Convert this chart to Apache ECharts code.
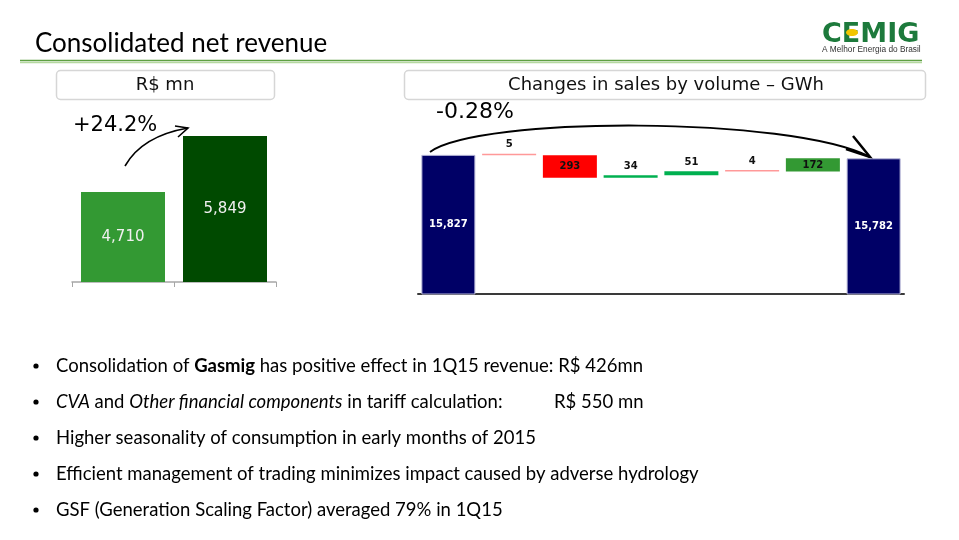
<!DOCTYPE html>
<html><head><meta charset="utf-8">
<script src="https://cdn.jsdelivr.net/npm/echarts@6/dist/echarts.min.js"></script>
<style>html,body{margin:0;padding:0;background:#fff}#c{width:959px;height:540px}</style>
</head><body><div id="c"></div>
<script>
// ---- data ----
const revCategories = ['1Q14', '1Q15'];
const revValues = [4710, 5849];
const revGrowthLabel = '+24.2%';

const wfCategories = ['1Q14', 'Var 1', 'Var 2', 'Var 3', 'Var 4', 'Var 5', 'Var 6', '1Q15'];
const wfStart = 15827;
const wfChanges = [-5, -293, 34, 51, -4, 172];
const wfEnd = 15782;
const wfChangeLabel = '-0.28%';

const bulletLines = [
  'Consolidation of {b|Gasmig} has positive effect in 1Q15 revenue: R$ 426mn',
  '{i|CVA} and {i|Other financial components} in tariff calculation:',
  'Higher seasonality of consumption in early months of 2015',
  'Efficient management of trading minimizes impact caused by adverse hydrology',
  'GSF (Generation Scaling Factor) averaged 79% in 1Q15'
];
const bullet2Tail = 'R$ 550 mn';

// ---- styles ----
const revColors = ['#339933', '#004a00'];
const wfTotalColor = '#000066';
const wfChangeColors = ['#ff9999', '#ff0000', '#00b050', '#00b050', '#ff9999', '#339933'];
const FONT_V = 'DejaVu Sans';
const FONT_C = 'Lato';
const BFS = 18.5;

// ---- build waterfall series ----
const wfBase = [], wfBar = [];
wfBase.push(0);
wfBar.push({value: wfStart, itemStyle: {color: wfTotalColor, borderColor: '#b8b8d8', borderWidth: 1},
  label: {show: true, position: 'inside', color: '#fff', fontSize: 10, fontWeight: 'bold'}});
let running = wfStart;
wfChanges.forEach((d, i) => {
  const next = running + d;
  wfBase.push(Math.min(running, next));
  const big = Math.abs(d) > 100;
  wfBar.push({value: Math.abs(d), itemStyle: {color: wfChangeColors[i]},
    label: {show: true, position: big ? 'inside' : 'top', distance: 4, color: '#111', fontSize: 10, fontWeight: 'bold',
      formatter: String(Math.abs(d))}});
  running = next;
});
wfBase.push(0);
wfBar.push({value: wfEnd, itemStyle: {color: wfTotalColor, borderColor: '#b8b8d8', borderWidth: 1},
  label: {show: true, position: 'inside', color: '#fff', fontSize: 10, fontWeight: 'bold'}});

const chart = echarts.init(document.getElementById('c'));
const fmt = v => v.toLocaleString('en-US');

const graphic = [
  {type: 'text', left: 35, top: 31, style: {text: 'Consolidated net revenue', font: '26px ' + FONT_C, fill: '#000'}},
  {type: 'line', shape: {x1: 20, y1: 60.5, x2: 922, y2: 60.5}, style: {stroke: '#5fa043', lineWidth: 1.5}},
  {type: 'line', shape: {x1: 20, y1: 62.5, x2: 922, y2: 62.5}, style: {stroke: '#b5d8a0', lineWidth: 1.5}},
  // logo
  {type: 'text', left: 822, top: 21, style: {text: 'CEMIG', font: 'bold 27px "DejaVu Sans"', fill: '#1d7a3c'}},
  {type: 'ellipse', shape: {cx: 852, cy: 32.5, rx: 6, ry: 3.5}, style: {fill: '#f2c500'}},
  {type: 'text', left: 822, top: 46, style: {text: 'A Melhor Energia do Brasil', font: '8.3px "Liberation Sans"', fill: '#333'}},
  // boxes
  {type: 'rect', shape: {x: 56.5, y: 70.5, width: 218, height: 29, r: 4}, style: {fill: '#fff', stroke: '#d6d6d6', lineWidth: 1.5}},
  {type: 'text', x: 165, y: 85.5, style: {text: 'R$ mn', font: '18px "' + FONT_V + '"', fill: '#111', align: 'center', verticalAlign: 'middle'}},
  {type: 'rect', shape: {x: 404.5, y: 70.5, width: 521, height: 29, r: 4}, style: {fill: '#fff', stroke: '#d6d6d6', lineWidth: 1.5}},
  {type: 'text', x: 666, y: 85.5, style: {text: 'Changes in sales by volume \u2013 GWh', font: '18px "' + FONT_V + '"', fill: '#111', align: 'center', verticalAlign: 'middle'}},
  // annotations
  {type: 'text', x: 73, y: 126, style: {text: revGrowthLabel, font: '21px "' + FONT_V + '"', fill: '#000', verticalAlign: 'middle'}},
  {type: 'bezierCurve', shape: {x1: 125, y1: 166, cpx1: 142, cpy1: 136, x2: 188, y2: 128}, style: {stroke: '#000', lineWidth: 1.6, fill: null}},
  {type: 'polyline', shape: {points: [[175, 126], [188, 128], [178, 137]]}, style: {stroke: '#000', lineWidth: 1.6, fill: null}},
  {type: 'text', x: 436, y: 112, style: {text: wfChangeLabel, font: '22px "' + FONT_V + '"', fill: '#000', verticalAlign: 'middle'}},
  {type: 'bezierCurve', shape: {x1: 430, y1: 152, cpx1: 480, cpy1: 116, cpx2: 790, cpy2: 116, x2: 870, y2: 157}, style: {stroke: '#000', lineWidth: 2, fill: null}},
  {type: 'polyline', shape: {points: [[846, 149], [870, 157], [853, 136]]}, style: {stroke: '#000', lineWidth: 2.5, fill: null}}
];
const by = [366, 402, 438, 474, 510];
bulletLines.forEach((t, i) => {
  graphic.push({type: 'circle', shape: {cx: 36, cy: by[i], r: 2.6}, style: {fill: '#000'}});
  graphic.push({type: 'text', x: 56, y: by[i], style: {text: t, font: BFS + 'px "' + FONT_C + '"', fill: '#000', verticalAlign: 'middle',
    rich: {b: {fontWeight: 'bold', fontSize: BFS, fontFamily: FONT_C}, i: {fontStyle: 'italic', fontSize: BFS, fontFamily: FONT_C}}}});
});
graphic.push({type: 'text', x: 554, y: by[1], style: {text: bullet2Tail, font: BFS + 'px "' + FONT_C + '"', fill: '#000', verticalAlign: 'middle'}});

chart.setOption({
  animation: false,
  backgroundColor: '#fff',
  grid: [
    {left: 72, top: 120, width: 204, height: 162},
    {left: 418, top: 140, width: 486, height: 154}
  ],
  xAxis: [
    {gridIndex: 0, type: 'category', data: revCategories,
      axisLine: {lineStyle: {color: '#a6a6a6', width: 1.5}}, axisTick: {show: true, length: 5, lineStyle: {color: '#a6a6a6'}},
      axisLabel: {show: false}},
    {gridIndex: 1, type: 'category', data: wfCategories,
      axisLine: {lineStyle: {color: '#3a3a3a', width: 2}}, axisTick: {show: false}, axisLabel: {show: false}}
  ],
  yAxis: [
    {gridIndex: 0, type: 'value', min: 2880, max: 6173, show: false, splitLine: {show: false}},
    {gridIndex: 1, type: 'value', min: 14020, max: 16020, show: false, splitLine: {show: false}}
  ],
  series: [
    {type: 'bar', xAxisIndex: 0, yAxisIndex: 0, barWidth: 84,
      data: revValues.map((v, i) => ({value: v, itemStyle: {color: revColors[i]}})),
      label: {show: true, position: 'inside', color: '#f0f0f0', fontFamily: FONT_V, fontSize: 15, formatter: p => fmt(p.value)}},
    {type: 'bar', xAxisIndex: 1, yAxisIndex: 1, stack: 'wf', barWidth: 54, data: wfBase,
      itemStyle: {color: 'transparent'}, emphasis: {disabled: true}, silent: true},
    {type: 'bar', xAxisIndex: 1, yAxisIndex: 1, stack: 'wf', barWidth: 54, barMinHeight: 1.5, data: wfBar,
      label: {fontFamily: FONT_V, formatter: p => fmt(p.value)}}
  ],
  graphic: graphic
});
</script></body></html>
